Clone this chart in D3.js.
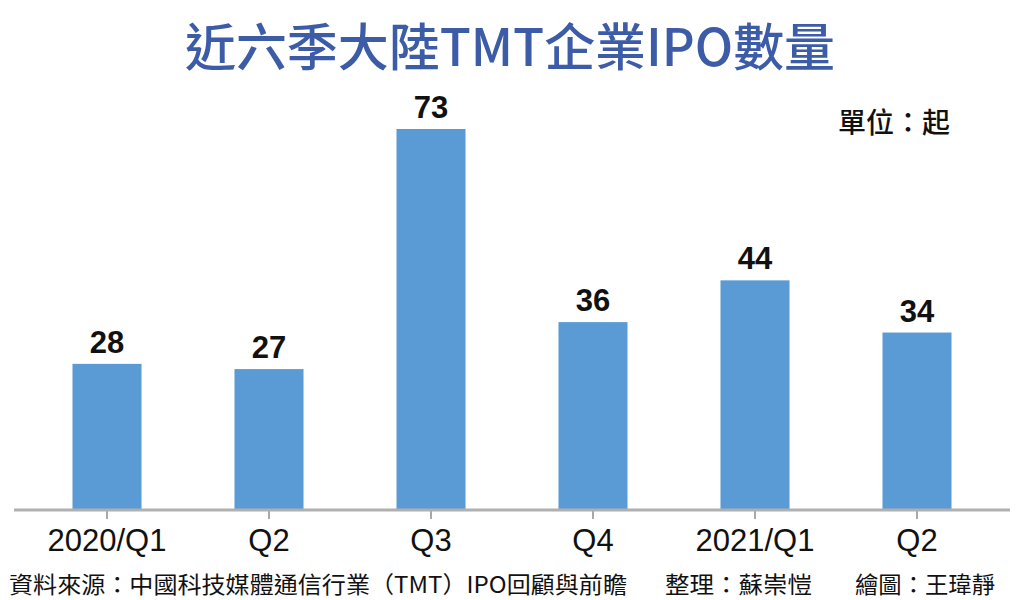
<!DOCTYPE html>
<html>
<head>
<meta charset="utf-8">
<script src="https://cdn.jsdelivr.net/npm/d3@7"></script>
<style>
  body { margin: 0; background: #fff; }
  svg { display: block; }
</style>
</head>
<body>
<svg id="chart" width="1024" height="600"></svg>
<script>
const quarters = ["2020/Q1", "Q2", "Q3", "Q4", "2021/Q1", "Q2 "];
const quarterLabels = ["2020/Q1", "Q2", "Q3", "Q4", "2021/Q1", "Q2"];
const ipoCounts = [28, 27, 73, 36, 44, 34];

const svg = d3.select("#chart");
const cjk = "'Noto Sans CJK TC', 'Noto Sans CJK SC', sans-serif";
const narrow = "'Liberation Sans Narrow', 'Liberation Sans', Arial, sans-serif";

const x = d3.scaleBand()
    .domain(quarters)
    .range([26, 998])
    .paddingInner(0.574)
    .paddingOuter(0.287);

const y = d3.scaleLinear()
    .domain([0, 73])
    .range([510, 129]);

// title
svg.append("text")
    .attr("x", 510)
    .attr("y", 66)
    .attr("text-anchor", "middle")
    .attr("font-family", cjk)
    .attr("font-weight", 500)
    .attr("font-size", 51)
    .attr("fill", "#3d5ca8")
    .attr("textLength", 650)
    .attr("lengthAdjust", "spacingAndGlyphs")
    .text("近六季大陸TMT企業IPO數量");

// unit
svg.append("text")
    .attr("x", 950)
    .attr("y", 133)
    .attr("text-anchor", "end")
    .attr("font-family", cjk)
    .attr("font-weight", 500)
    .attr("font-size", 28)
    .attr("fill", "#111")
    .text("單位：起");

// bars
svg.append("g")
    .selectAll("rect")
    .data(ipoCounts)
    .join("rect")
    .attr("x", (d, i) => x(quarters[i]))
    .attr("y", (d) => y(d))
    .attr("width", x.bandwidth())
    .attr("height", (d) => y(0) - y(d))
    .attr("fill", "#5b9bd5");

// value labels
svg.append("g")
    .selectAll("text")
    .data(ipoCounts)
    .join("text")
    .attr("x", (d, i) => x(quarters[i]) + x.bandwidth() / 2)
    .attr("y", (d) => y(d) - 11)
    .attr("text-anchor", "middle")
    .attr("font-family", "'Liberation Sans', Arial, sans-serif")
    .attr("font-weight", 700)
    .attr("font-size", 31)
    .attr("fill", "#111")
    .text((d) => d);

// x axis
const axis = svg.append("g")
    .attr("transform", `translate(0,${y(0)})`)
    .call(d3.axisBottom(x)
        .tickSize(9)
        .tickPadding(10)
        .tickFormat((d, i) => quarterLabels[i]));

axis.select(".domain").remove();
axis.selectAll(".tick line").attr("stroke", "#a8a8a8").attr("stroke-width", 2);
axis.selectAll(".tick text")
    .attr("font-family", narrow)
    .attr("font-size", 31)
    .attr("fill", "#111");

svg.append("line")
    .attr("x1", 14)
    .attr("x2", 1010)
    .attr("y1", y(0))
    .attr("y2", y(0))
    .attr("stroke", "#b0b0b0")
    .attr("stroke-width", 3);

// footnote
const notes = [
    { text: "資料來源：中國科技媒體通信行業（TMT）IPO回顧與前瞻", x: 9, w: 618 },
    { text: "整理：蘇崇愷", x: 665, w: 147 },
    { text: "繪圖：王瑋靜", x: 855, w: 140 }
];
svg.append("g")
    .selectAll("text")
    .data(notes)
    .join("text")
    .attr("x", (d) => d.x)
    .attr("y", 593)
    .attr("font-family", cjk)
    .attr("font-size", 23)
    .attr("fill", "#111")
    .attr("textLength", (d) => d.w)
    .attr("lengthAdjust", "spacingAndGlyphs")
    .text((d) => d.text);
</script>
</body>
</html>
